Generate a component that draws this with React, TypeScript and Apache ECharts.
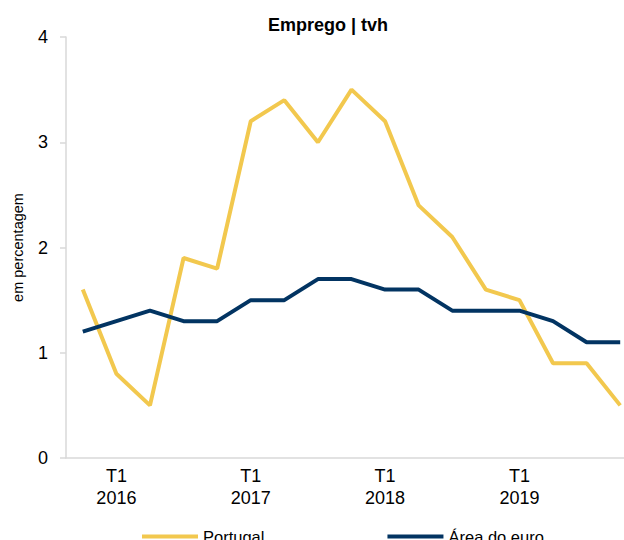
import React, { useEffect, useRef } from "react";
import * as echarts from "echarts";

const categories = [
  "T4 2015",
  "T1 2016", "T2 2016", "T3 2016", "T4 2016",
  "T1 2017", "T2 2017", "T3 2017", "T4 2017",
  "T1 2018", "T2 2018", "T3 2018", "T4 2018",
  "T1 2019", "T2 2019", "T3 2019", "T4 2019",
];
const portugal = [1.6, 0.8, 0.5, 1.9, 1.8, 3.2, 3.4, 3.0, 3.5, 3.2, 2.4, 2.1, 1.6, 1.5, 0.9, 0.9, 0.5];
const areaEuro = [1.2, 1.3, 1.4, 1.3, 1.3, 1.5, 1.5, 1.7, 1.7, 1.6, 1.6, 1.4, 1.4, 1.4, 1.3, 1.1, 1.1];
const yTicks = [0, 1, 2, 3, 4];

const FONT = "Liberation Sans, Arial, sans-serif";

export default function App() {
  const ref = useRef<HTMLDivElement>(null);
  useEffect(() => {
    if (!ref.current) return;
    const chart = echarts.init(ref.current, undefined, { renderer: "svg" });
    chart.setOption({
      animation: false,
      title: {
        text: "Emprego | tvh",
        left: 323,
        textAlign: "center",
        top: 11,
        textStyle: { fontFamily: FONT, fontSize: 18, fontWeight: "bold", color: "#000" },
      },
      legend: {
        left: 137,
        top: 523,
        itemWidth: 56,
        itemHeight: 4,
        itemGap: 123,
        icon: "rect",
        textStyle: { fontFamily: FONT, fontSize: 16.5, color: "#000" },
        data: ["Portugal", "Área do euro"],
      },
      grid: {
        left: 66,
        top: 37,
        right: -13,
        bottom: 82,
        containLabel: false,
        outerBoundsMode: "none",
      },
      xAxis: {
        type: "category",
        data: categories,
        boundaryGap: true,
        axisLine: { lineStyle: { color: "#d9d9d9", width: 1.5 } },
        axisTick: { show: false },
        axisLabel: {
          interval: 0,
          margin: 7,
          lineHeight: 22,
          fontFamily: FONT,
          fontSize: 18,
          color: "#000",
          formatter: (v: string) => {
            if (v.startsWith("T1")) {
              const [q, y] = v.split(" ");
              return q + "\n" + y;
            }
            return "";
          },
        },
      },
      yAxis: {
        type: "value",
        min: yTicks[0],
        max: yTicks[yTicks.length - 1],
        interval: 1,
        name: "em percentagem",
        nameLocation: "middle",
        nameGap: 41,
        nameRotate: 90,
        nameTextStyle: { fontFamily: FONT, fontSize: 14.5, color: "#000" },
        axisLine: { show: true, lineStyle: { color: "#d9d9d9", width: 1.5 } },
        axisTick: { show: true, length: 6, lineStyle: { color: "#d9d9d9", width: 1.5 } },
        splitLine: { show: false },
        axisLabel: { margin: 18, fontFamily: FONT, fontSize: 18, color: "#000" },
      },
      series: [
        {
          name: "Portugal",
          type: "line",
          data: portugal,
          showSymbol: false,
          symbol: "none",
          lineStyle: { color: "#F2C84E", width: 4 },
          itemStyle: { color: "#F2C84E" },
        },
        {
          name: "Área do euro",
          type: "line",
          data: areaEuro,
          showSymbol: false,
          symbol: "none",
          lineStyle: { color: "#023462", width: 4 },
          itemStyle: { color: "#023462" },
        },
      ],
    });
    return () => chart.dispose();
  }, []);
  return <div ref={ref} style={{ width: 624, height: 540, position: "absolute", left: 0, top: 0 }} />;
}
